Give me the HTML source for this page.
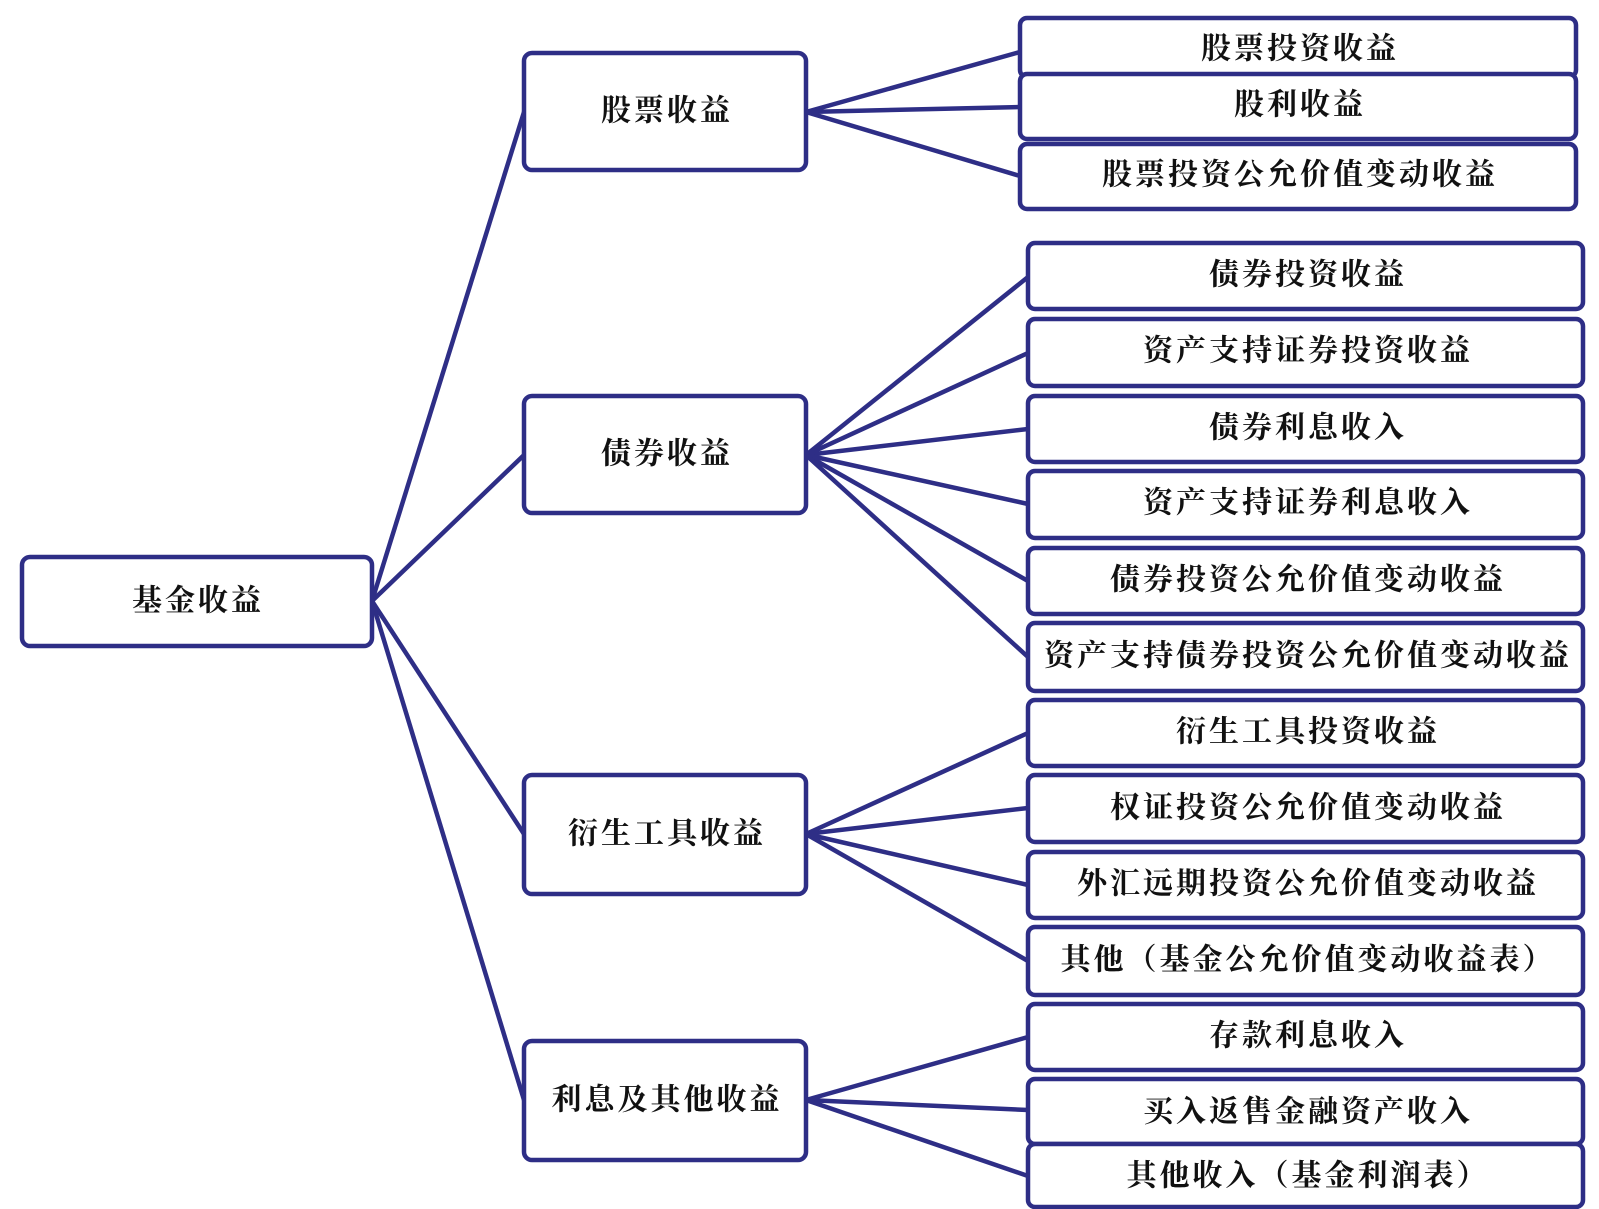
<!DOCTYPE html>
<html><head><meta charset="utf-8"><style>
html,body{margin:0;padding:0;background:#fff}
svg{display:block}
text{font-family:"Liberation Serif","Noto Serif CJK SC",serif;font-size:30px;font-weight:700;fill:#111;text-anchor:middle;dominant-baseline:central;letter-spacing:3px}
rect{fill:#fff;stroke:#2e2e86;stroke-width:4.5}
line{stroke:#2e2e86;stroke-width:4.5}
</style></head><body>
<svg width="1599" height="1209" viewBox="0 0 1599 1209">
<line x1="372" y1="601" x2="524" y2="112"/>
<line x1="372" y1="601" x2="524" y2="455"/>
<line x1="372" y1="601" x2="524" y2="834"/>
<line x1="372" y1="601" x2="524" y2="1100"/>
<line x1="806" y1="112" x2="1020" y2="52"/>
<line x1="806" y1="112" x2="1020" y2="107"/>
<line x1="806" y1="112" x2="1020" y2="176"/>
<line x1="806" y1="455" x2="1028" y2="277"/>
<line x1="806" y1="455" x2="1028" y2="353"/>
<line x1="806" y1="455" x2="1028" y2="429"/>
<line x1="806" y1="455" x2="1028" y2="504"/>
<line x1="806" y1="455" x2="1028" y2="581"/>
<line x1="806" y1="455" x2="1028" y2="657"/>
<line x1="806" y1="834" x2="1028" y2="733"/>
<line x1="806" y1="834" x2="1028" y2="808"/>
<line x1="806" y1="834" x2="1028" y2="885"/>
<line x1="806" y1="834" x2="1028" y2="961"/>
<line x1="806" y1="1100" x2="1028" y2="1037"/>
<line x1="806" y1="1100" x2="1028" y2="1110"/>
<line x1="806" y1="1100" x2="1028" y2="1176"/>

<rect x="22" y="557" width="350" height="89" rx="8"/><text x="198" y="601">基金收益</text>
<rect x="524" y="53" width="282" height="117" rx="8"/><text x="667" y="111">股票收益</text>
<rect x="524" y="396" width="282" height="117" rx="8"/><text x="667" y="454">债券收益</text>
<rect x="524" y="775" width="282" height="119" rx="8"/><text x="667" y="834">衍生工具收益</text>
<rect x="524" y="1041" width="282" height="119" rx="8"/><text x="667" y="1100">利息及其他收益</text>

<rect x="1020" y="18" width="556" height="59" rx="7"/><text x="1300" y="49">股票投资收益</text>
<rect x="1020" y="74" width="556" height="65" rx="7"/><text x="1300" y="105">股利收益</text>
<rect x="1020" y="144" width="556" height="65" rx="7"/><text x="1300" y="175">股票投资公允价值变动收益</text>

<rect x="1028" y="243" width="555" height="66" rx="7"/><text x="1308" y="275">债券投资收益</text>
<rect x="1028" y="319" width="555" height="67" rx="7"/><text x="1308" y="351">资产支持证券投资收益</text>
<rect x="1028" y="396" width="555" height="66" rx="7"/><text x="1308" y="428">债券利息收入</text>
<rect x="1028" y="471" width="555" height="67" rx="7"/><text x="1308" y="503">资产支持证券利息收入</text>
<rect x="1028" y="548" width="555" height="66" rx="7"/><text x="1308" y="580">债券投资公允价值变动收益</text>
<rect x="1028" y="623" width="555" height="68" rx="7"/><text x="1308" y="656">资产支持债券投资公允价值变动收益</text>
<rect x="1028" y="700" width="555" height="66" rx="7"/><text x="1308" y="732">衍生工具投资收益</text>
<rect x="1028" y="775" width="555" height="67" rx="7"/><text x="1308" y="808">权证投资公允价值变动收益</text>
<rect x="1028" y="852" width="555" height="66" rx="7"/><text x="1308" y="884">外汇远期投资公允价值变动收益</text>
<rect x="1028" y="927" width="555" height="68" rx="7"/><text x="1308" y="960">其他（基金公允价值变动收益表）</text>
<rect x="1028" y="1004" width="555" height="66" rx="7"/><text x="1308" y="1036">存款利息收入</text>
<rect x="1028" y="1079" width="555" height="65" rx="7"/><text x="1308" y="1112">买入返售金融资产收入</text>
<rect x="1028" y="1144" width="555" height="63" rx="7"/><text x="1308" y="1176">其他收入（基金利润表）</text>
</svg>
</body></html>
